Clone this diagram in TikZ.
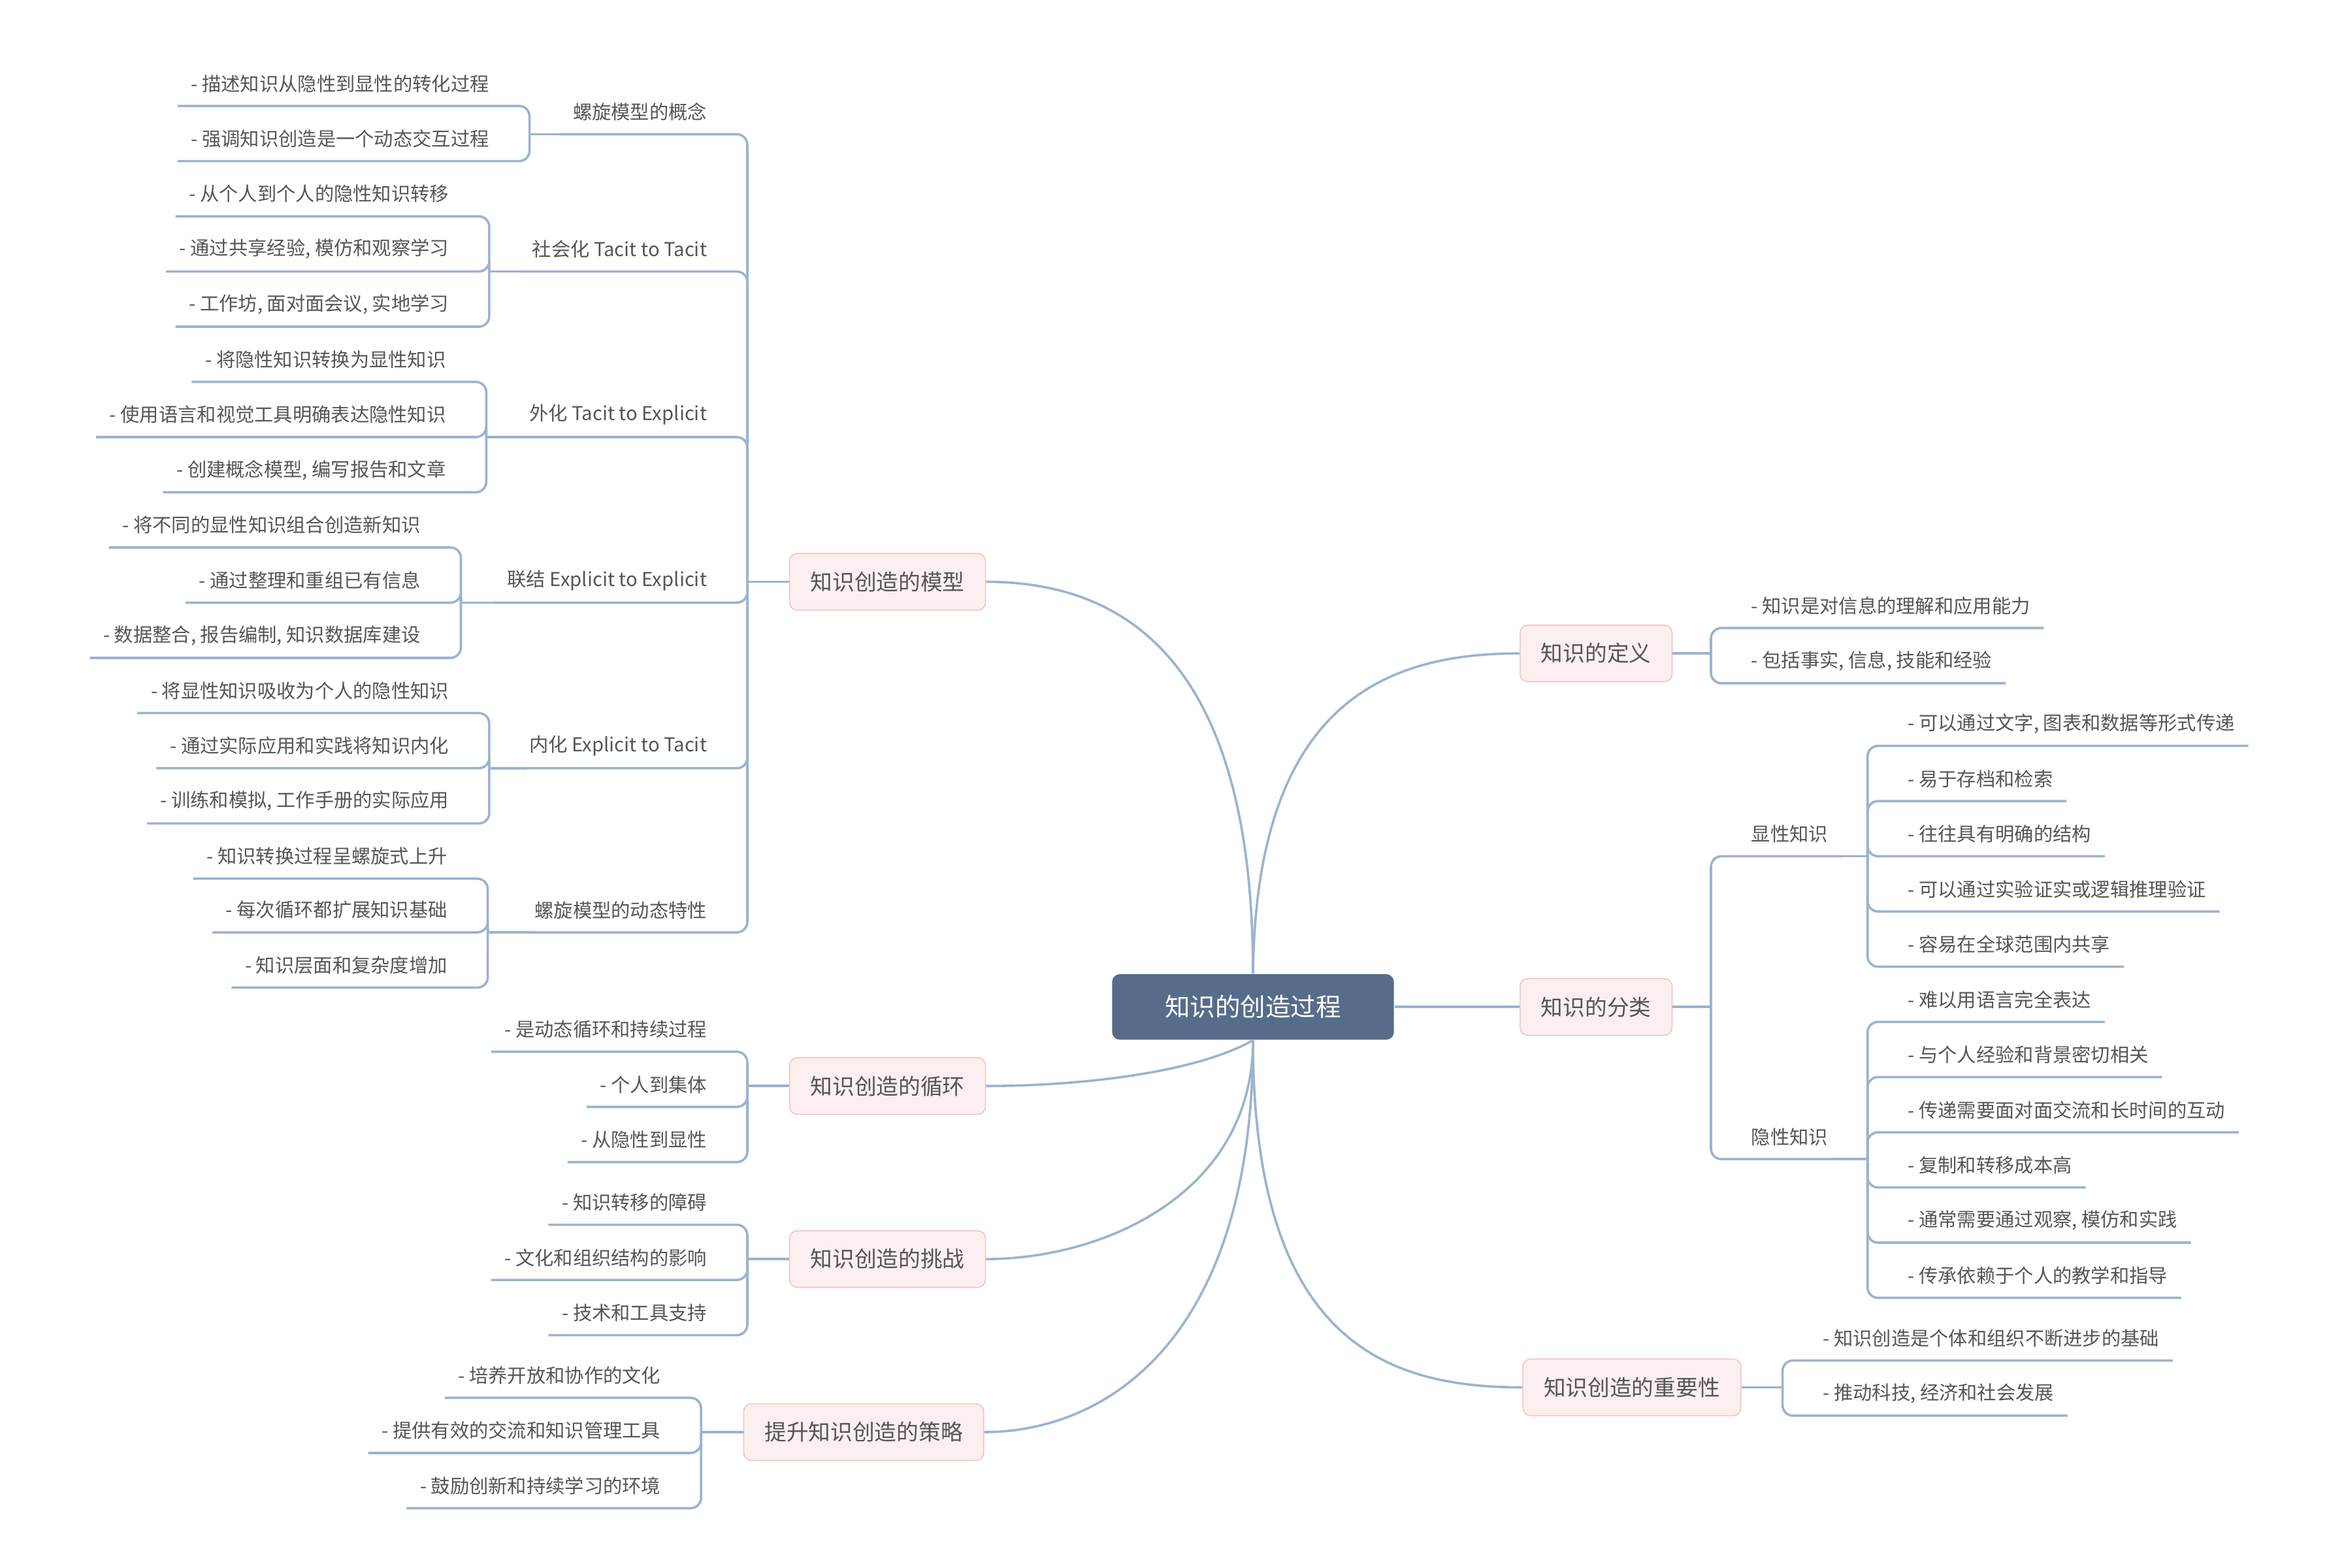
\documentclass[tikz,border=0pt]{standalone}
\usepackage{fontspec}
\setmainfont{Noto Sans CJK SC}
\definecolor{linkc}{HTML}{9BB3CE}
\definecolor{txtc}{HTML}{555555}
\definecolor{rootc}{HTML}{566C8A}
\definecolor{boxf}{HTML}{FCEFEF}
\definecolor{boxd}{HTML}{F0C4C4}
\tikzset{
  link/.style={draw=linkc, line width=0.9pt},
  leaf/.style={text=txtc, font=\fontsize{7.3}{9}\selectfont, inner xsep=1pt, inner ysep=0pt},
  branch/.style={rounded corners=3pt, fill=boxf, draw=boxd, text=txtc, font=\fontsize{8.4}{10}\selectfont, minimum height=0.76cm, inner xsep=8pt},
  rootbox/.style={rounded corners=3pt, fill=rootc, text=white, font=\fontsize{9.6}{11}\selectfont, minimum width=3.78cm, minimum height=0.88cm}
}
% left leaf: name, bracket x, parent y, label y, text
\newcommand\lleaf[5]{%
  \node[leaf, anchor=east] (#1) at (#2-25,#4) {#5};
  \coordinate (#1u) at (0,#4+15);
  \draw[link, rounded corners=4] (#2,#3) -- (#2,#4+15) -- ([xshift=-4pt]#1.west |- #1u);}
% right leaf
\newcommand\rleaf[5]{%
  \node[leaf, anchor=west] (#1) at (#2+25,#4) {#5};
  \coordinate (#1u) at (0,#4+15);
  \draw[link, rounded corners=4] (#2,#3) -- (#2,#4+15) -- ([xshift=4pt]#1.east |- #1u);}
\begin{document}
\begin{tikzpicture}[x=0.02cm, y=-0.02cm]
\useasboundingbox (0,0) rectangle (1560,1051);

% centre et branches
\node[rootbox] (root) at (840,675) {知识的创造过程};
\node[branch] (model) at (595,390) {知识创造的模型};
\node[branch] (cycle) at (595,728) {知识创造的循环};
\node[branch] (chall) at (595,844) {知识创造的挑战};
\node[branch] (strat) at (579,960) {提升知识创造的策略};
\node[branch] (defn) at (1070,438) {知识的定义};
\node[branch] (kind) at (1070,675) {知识的分类};
\node[branch] (impo) at (1094,930) {知识创造的重要性};

\draw[link] (root.north) .. controls (840,450) and (760,390) .. (model.east);
\draw[link] (root.south) .. controls (800,720) and (720,728) .. (cycle.east);
\draw[link] (root.south) .. controls (840,800) and (740,844) .. (chall.east);
\draw[link] (root.south) .. controls (840,900) and (740,960) .. (strat.east);
\draw[link] (root.north) .. controls (842,470) and (930,438) .. (defn.west);
\draw[link] (root.east) -- (kind.west);
\draw[link] (root.south) .. controls (840,900) and (930,930) .. (impo.west);

% modèle
\draw[link] (model.west) -- (501,390);
\lleaf{m1}{501}{390}{75}{螺旋模型的概念}
\draw[link] (m1.west |- m1u) -- (355,90);
\lleaf{m11}{355}{90}{56}{- 描述知识从隐性到显性的转化过程}
\lleaf{m12}{355}{90}{93}{- 强调知识创造是一个动态交互过程}
\lleaf{m2}{501}{390}{167}{社会化 Tacit to Tacit}
\draw[link] (m2.west |- m2u) -- (328,182);
\lleaf{m21}{328}{182}{130}{- 从个人到个人的隐性知识转移}
\lleaf{m22}{328}{182}{167}{- 通过共享经验, 模仿和观察学习}
\lleaf{m23}{328}{182}{204}{- 工作坊, 面对面会议, 实地学习}
\lleaf{m3}{501}{390}{278}{外化 Tacit to Explicit}
\draw[link] (m3.west |- m3u) -- (326,293);
\lleaf{m31}{326}{293}{241}{- 将隐性知识转换为显性知识}
\lleaf{m32}{326}{293}{278}{- 使用语言和视觉工具明确表达隐性知识}
\lleaf{m33}{326}{293}{315}{- 创建概念模型, 编写报告和文章}
\lleaf{m4}{501}{390}{389}{联结 Explicit to Explicit}
\draw[link] (m4.west |- m4u) -- (309,404);
\lleaf{m41}{309}{404}{352}{- 将不同的显性知识组合创造新知识}
\lleaf{m42}{309}{404}{389}{- 通过整理和重组已有信息}
\lleaf{m43}{309}{404}{426}{- 数据整合, 报告编制, 知识数据库建设}
\lleaf{m5}{501}{390}{500}{内化 Explicit to Tacit}
\draw[link] (m5.west |- m5u) -- (328,515);
\lleaf{m51}{328}{515}{463}{- 将显性知识吸收为个人的隐性知识}
\lleaf{m52}{328}{515}{500}{- 通过实际应用和实践将知识内化}
\lleaf{m53}{328}{515}{537}{- 训练和模拟, 工作手册的实际应用}
\lleaf{m6}{501}{390}{610}{螺旋模型的动态特性}
\draw[link] (m6.west |- m6u) -- (327,625);
\lleaf{m61}{327}{625}{574}{- 知识转换过程呈螺旋式上升}
\lleaf{m62}{327}{625}{610}{- 每次循环都扩展知识基础}
\lleaf{m63}{327}{625}{647}{- 知识层面和复杂度增加}

% cycle, défis, stratégies
\draw[link] (cycle.west) -- (501,728);
\lleaf{c1}{501}{728}{690}{- 是动态循环和持续过程}
\lleaf{c2}{501}{728}{727}{- 个人到集体}
\lleaf{c3}{501}{728}{764}{- 从隐性到显性}
\draw[link] (chall.west) -- (501,844);
\lleaf{h1}{501}{844}{806}{- 知识转移的障碍}
\lleaf{h2}{501}{844}{843}{- 文化和组织结构的影响}
\lleaf{h3}{501}{844}{880}{- 技术和工具支持}
\draw[link] (strat.west) -- (470,960);
\lleaf{s1}{470}{960}{922}{- 培养开放和协作的文化}
\lleaf{s2}{470}{960}{959}{- 提供有效的交流和知识管理工具}
\lleaf{s3}{470}{960}{996}{- 鼓励创新和持续学习的环境}

% côté droit
\draw[link] (defn.east) -- (1147,438);
\rleaf{d1}{1147}{438}{406}{- 知识是对信息的理解和应用能力}
\rleaf{d2}{1147}{438}{443}{- 包括事实, 信息, 技能和经验}
\draw[link] (kind.east) -- (1147,675);
\rleaf{k1}{1147}{675}{559}{显性知识}
\draw[link] (k1.east |- k1u) -- (1252,574);
\rleaf{k11}{1252}{574}{485}{- 可以通过文字, 图表和数据等形式传递}
\rleaf{k12}{1252}{574}{522}{- 易于存档和检索}
\rleaf{k13}{1252}{574}{559}{- 往往具有明确的结构}
\rleaf{k14}{1252}{574}{596}{- 可以通过实验证实或逻辑推理验证}
\rleaf{k15}{1252}{574}{633}{- 容易在全球范围内共享}
\rleaf{k2}{1147}{675}{762}{隐性知识}
\draw[link] (k2.east |- k2u) -- (1252,777);
\rleaf{k21}{1252}{777}{670}{- 难以用语言完全表达}
\rleaf{k22}{1252}{777}{707}{- 与个人经验和背景密切相关}
\rleaf{k23}{1252}{777}{744}{- 传递需要面对面交流和长时间的互动}
\rleaf{k24}{1252}{777}{781}{- 复制和转移成本高}
\rleaf{k25}{1252}{777}{818}{- 通常需要通过观察, 模仿和实践}
\rleaf{k26}{1252}{777}{855}{- 传承依赖于个人的教学和指导}
\draw[link] (impo.east) -- (1195,930);
\rleaf{i1}{1195}{930}{897}{- 知识创造是个体和组织不断进步的基础}
\rleaf{i2}{1195}{930}{934}{- 推动科技, 经济和社会发展}
\end{tikzpicture}
\end{document}
